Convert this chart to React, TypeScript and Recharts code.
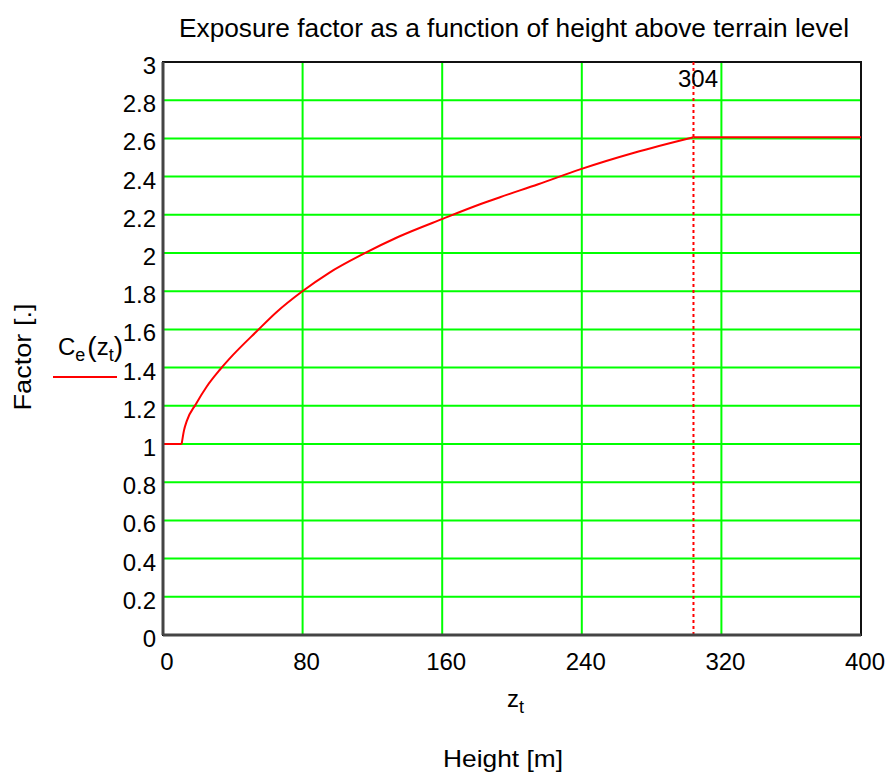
import React from 'react';
import { LineChart, Line, XAxis, YAxis, CartesianGrid, ReferenceLine, ReferenceArea } from 'recharts';

const heights = [0, 10.7, 12, 13.6, 18.9, 25, 32.7, 40, 53.7, 65, 79.5, 95, 114.8, 135, 160.6, 181.7, 193.1, 215, 239, 270, 304, 400];
const factors = [1, 1, 1.07, 1.12, 1.21, 1.3, 1.39, 1.465, 1.59, 1.69, 1.797, 1.895, 1.995, 2.085, 2.18, 2.255, 2.292, 2.36, 2.438, 2.525, 2.606, 2.606];
const zMin = 10.7;
const markerHeight = 304;
const xTicks = [0, 80, 160, 240, 320, 400];
const yTicks = [0, 0.2, 0.4, 0.6, 0.8, 1, 1.2, 1.4, 1.6, 1.8, 2, 2.2, 2.4, 2.6, 2.8, 3];
const title = 'Exposure factor as a function of height above terrain level';
const yLabel = 'Factor [.]';
const xLabel = 'Height [m]';

const data = heights.map((h, i) => ({
  h,
  rise: h >= zMin && h <= markerHeight ? factors[i] : null,
  flat: h <= zMin || h >= markerHeight ? factors[i] : null,
}));

const W = 887;
const H = 772;
const FONT = 'Liberation Sans, Arial, sans-serif';
const FS = 24;

const XTick = (props: any) => {
  const { x, y, payload } = props;
  return (
    <text x={x + 4} y={y + 33} textAnchor="middle" fontFamily={FONT} fontSize={FS} fill="#000">
      {payload.value}
    </text>
  );
};

const YTick = (props: any) => {
  const { x, y, payload } = props;
  return (
    <text x={x - 5} y={y + 12} textAnchor="end" fontFamily={FONT} fontSize={FS} fill="#000">
      {String(Math.round(payload.value * 10) / 10)}
    </text>
  );
};

const MarkerLabel = (props: any) => {
  const { viewBox } = props;
  return (
    <text x={viewBox.x + 4.5} y={viewBox.y + 25} textAnchor="middle" fontFamily={FONT} fontSize={FS} fill="#000">
      {String(markerHeight)}
    </text>
  );
};

export default function App() {
  return (
    <div style={{ position: 'absolute', left: 0, top: 0, width: W, height: H, background: '#fff' }}>
      <LineChart width={W} height={H} data={data} margin={{ top: 62, right: 26, bottom: 107, left: 123 }}>
        <CartesianGrid stroke="#00ff00" strokeWidth={2} horizontal vertical />
        <ReferenceArea x1={0} x2={400} y1={0} y2={3} fill="none" stroke="#111" strokeWidth={2} fillOpacity={0} />
        <XAxis
          dataKey="h"
          type="number"
          domain={[0, 400]}
          ticks={xTicks}
          interval={0}
          height={30}
          tickSize={0}
          tickLine={false}
          axisLine={{ stroke: '#444', strokeWidth: 3 }}
          tick={<XTick />}
        />
        <YAxis
          type="number"
          domain={[0, 3]}
          ticks={yTicks}
          interval={0}
          width={40}
          tickSize={0}
          tickLine={false}
          axisLine={{ stroke: '#444', strokeWidth: 3 }}
          tick={<YTick />}
        />
        <ReferenceLine x={markerHeight} stroke="#ff0000" strokeWidth={2} strokeDasharray="3 3" label={<MarkerLabel />} />
        <Line type="linear" dataKey="flat" stroke="#ff0000" strokeWidth={2} dot={false} connectNulls={false} isAnimationActive={false} />
        <Line type="monotone" dataKey="rise" stroke="#ff0000" strokeWidth={2} dot={false} connectNulls={false} isAnimationActive={false} />
      </LineChart>
      <svg width={W} height={H} style={{ position: 'absolute', left: 0, top: 0, pointerEvents: 'none' }}>
        <text x={514} y={37} textAnchor="middle" fontFamily={FONT} fontSize={25} textLength={670} lengthAdjust="spacingAndGlyphs" fill="#000">{title}</text>
        <text x={0} y={0} transform="translate(31,357) rotate(-90)" textAnchor="middle" fontFamily={FONT} fontSize={FS} textLength={107} lengthAdjust="spacingAndGlyphs" fill="#000">{yLabel}</text>
        <text x={58} y={355} fontFamily={FONT} fontSize={FS} fill="#000">
          C<tspan fontSize={18} dy={6}>e</tspan><tspan fontSize={28} dy={-5} dx={2}>(</tspan><tspan dy={-1}>z</tspan><tspan fontSize={18} dy={6}>t</tspan><tspan fontSize={28} dy={-5}>)</tspan>
        </text>
        <line x1={53} x2={117} y1={377} y2={377} stroke="#ff0000" strokeWidth={2} />
        <text x={507} y={707} fontFamily={FONT} fontSize={FS} fill="#000">
          z<tspan fontSize={18} dy={6}>t</tspan>
        </text>
        <text x={503} y={767} textAnchor="middle" fontFamily={FONT} fontSize={FS} textLength={120} lengthAdjust="spacingAndGlyphs" fill="#000">{xLabel}</text>
      </svg>
    </div>
  );
}
